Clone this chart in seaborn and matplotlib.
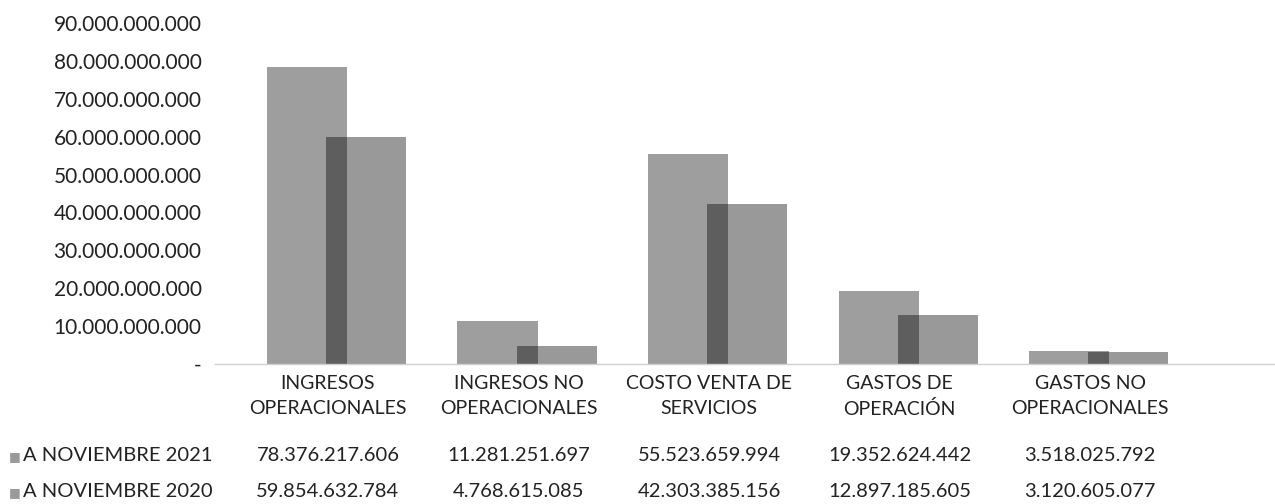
import pandas as pd
import numpy as np
import matplotlib
matplotlib.use("Agg")
import matplotlib.pyplot as plt
import seaborn as sns

# ================================
# DATA
# ================================
categorias = ["INGRESOS\nOPERACIONALES", "INGRESOS NO\nOPERACIONALES",
              "COSTO VENTA DE\nSERVICIOS", "GASTOS DE\nOPERACIÓN",
              "GASTOS NO\nOPERACIONALES"]
series = ["A NOVIEMBRE 2021", "A NOVIEMBRE 2020"]
nov_2021 = [78376217606, 11281251697, 55523659994, 19352624442, 3518025792]
nov_2020 = [59854632784, 4768615085, 42303385156, 12897185605, 3120605077]

df = pd.DataFrame({
    "categoria": categorias * 2,
    "serie": [series[0]] * 5 + [series[1]] * 5,
    "valor": nov_2021 + nov_2020,
})

def fmt(v):
    return f"{v:,}".replace(",", ".")

# ================================
# PLOT
# ================================
sns.set_theme(style="white")
plt.rcParams["font.family"] = ["Lato", "DejaVu Sans"]

fig = plt.figure(figsize=(12.75, 5.04), dpi=100)
ax = fig.add_axes([0.169, 0.278, 0.831, 0.676])

colores = {series[0]: "#9e9e9e", series[1]: "#000000"}
sns.barplot(data=df, x="categoria", y="valor", hue="serie", order=categorias,
            hue_order=series, palette=colores, dodge=True, legend=False,
            saturation=1, ax=ax)

# overlapping bars like the original Excel chart
ancho = 0.42
desplaz = [-0.11, 0.2]
for k, cont in enumerate(ax.containers):
    for i, bar in enumerate(cont):
        bar.set_width(ancho)
        bar.set_x(i + desplaz[k] - ancho / 2)
        bar.set_edgecolor("none")
        if k == 1:
            bar.set_alpha(0.4)

ax.set_ylim(0, 90e9)
ax.set_xlim(-0.59, 4.97)
yt = np.arange(0, 90e9 + 1, 10e9)
ax.set_yticks(yt)
ax.set_yticklabels(["-"] + [fmt(int(v)) for v in yt[1:]], fontsize=15, color="#222222")
ax.tick_params(axis="y", length=0, pad=10)
ax.tick_params(axis="x", length=0, pad=8)
for lbl in ax.get_xticklabels():
    lbl.set_fontsize(14)
    lbl.set_linespacing(1.55)
    lbl.set_color("#222222")
ax.set_xlabel("")
ax.set_ylabel("")
sns.despine(ax=ax, left=True, top=True, right=True, bottom=False)
ax.spines["bottom"].set_color("#d0d0d0")
ax.spines["bottom"].set_linewidth(1)
ax.grid(False)

# ================================
# DATA TABLE BELOW
# ================================
trans = matplotlib.transforms.blended_transform_factory(ax.transData, fig.transFigure)
filas_y = [0.086, 0.013]
for fila, (nombre, valores) in enumerate(zip(series, [nov_2021, nov_2020])):
    y = filas_y[fila]
    fig.text(0.007, y + 0.002, "\u25a0", fontsize=9, color="#9a9a9a", va="baseline",
             ha="left", family=["DejaVu Sans"])
    fig.text(0.018, y, nombre, fontsize=14.5, color="#222222", va="baseline", ha="left")
    for i, v in enumerate(valores):
        ax.text(i, y, fmt(v), transform=trans, fontsize=14.5, color="#222222",
                va="baseline", ha="center")

fig.savefig("out.png", dpi=100)
